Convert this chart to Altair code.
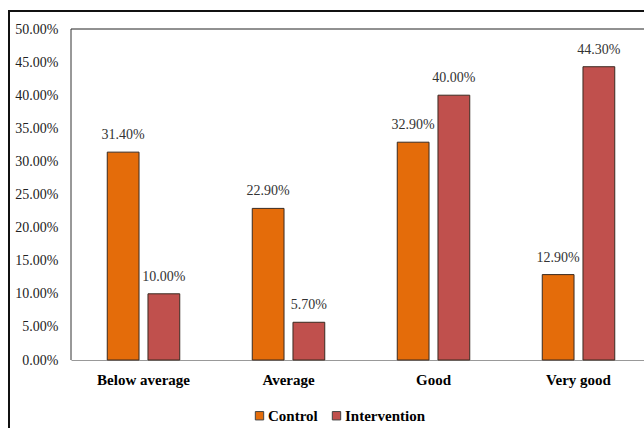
import altair as alt
import pandas as pd

categories = ["Below average", "Average", "Good", "Very good"]
groups = ["Control", "Intervention"]
control = [0.314, 0.229, 0.329, 0.129]
intervention = [0.100, 0.057, 0.400, 0.443]

rows = []
for i, c in enumerate(categories):
    rows.append({"cat": c, "grp": "Control", "val": control[i]})
    rows.append({"cat": c, "grp": "Intervention", "val": intervention[i]})
df = pd.DataFrame(rows)

FONT = "Liberation Serif"
colors = ["#E46C0A", "#C0504D"]

x = alt.X("cat:N", sort=categories, title=None,
          scale=alt.Scale(paddingInner=0.5, paddingOuter=0.25, range=[0, 580]),
          axis=alt.Axis(labelAngle=0, labelFont=FONT, labelFontSize=15, labelFontWeight="bold",
                        labelColor="#000", labelPadding=12, ticks=False, domainColor="#999"))
xo = alt.XOffset("grp:N", sort=groups, scale=alt.Scale(paddingInner=0.22, paddingOuter=0))
y = alt.Y("val:Q", title=None,
          scale=alt.Scale(domain=[0, 0.5]),
          axis=alt.Axis(format=".2%", values=[i * 0.05 for i in range(11)], grid=False, ticks=False,
                        domain=False, labelFont=FONT, labelFontSize=14, labelColor="#222",
                        labelPadding=13))

base = alt.Chart(df)
bars = base.mark_bar(stroke="#3a2a20", strokeWidth=1).encode(
    x=x, xOffset=xo, y=y,
    color=alt.Color("grp:N", sort=groups, scale=alt.Scale(domain=groups, range=colors),
                    legend=alt.Legend(title=None, orient="none", direction="horizontal",
                                      legendX=181, legendY=379, symbolType="square",
                                      symbolSize=70, symbolStrokeColor="#444", symbolStrokeWidth=1,
                                      labelFont=FONT, labelFontSize=15, labelFontWeight="bold",
                                      labelColor="#000", columnPadding=11, labelOffset=1))
)
labels = base.mark_text(dy=-10, baseline="bottom", font=FONT, fontSize=14, color="#333").encode(
    x=x, xOffset=xo, y=y, text=alt.Text("val:Q", format=".2%")
)

one = pd.DataFrame({"a": [0]})
frame = alt.Chart(one).mark_rect(
    fillOpacity=0, stroke="#111", strokeWidth=2
).encode(x=alt.value(-62), y=alt.value(-18), x2=alt.value(700), y2=alt.value(600))
top_line = alt.Chart(one).mark_rule(color="#222", strokeWidth=1).encode(
    x=alt.value(0), x2=alt.value(700), y=alt.value(0))
left_line = alt.Chart(one).mark_rule(color="#333", strokeWidth=1).encode(
    x=alt.value(0), y=alt.value(0), y2=alt.value(331))

chart = alt.layer(bars, labels, top_line, left_line, frame).properties(
    width=573, height=331,
    padding={"left": 71, "top": 29, "right": 0, "bottom": 68},
    autosize=alt.AutoSizeParams(type="none"),
    background="white",
).configure_view(stroke=None)

chart.save("out.html", embed_options={"renderer": "svg", "actions": False})
